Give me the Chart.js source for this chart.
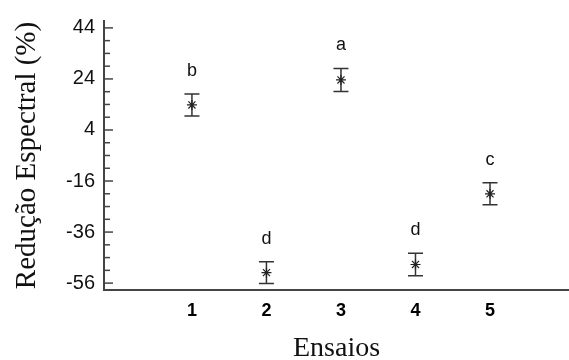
<!DOCTYPE html>
<html>
<head>
<meta charset="utf-8">
<script src="https://cdn.jsdelivr.net/npm/chart.js@4/dist/chart.umd.min.js"></script>
<style>
  html, body { margin: 0; padding: 0; background: #fff; }
  #wrap { width: 569px; height: 360px; }
</style>
</head>
<body>
<div id="wrap"><canvas id="chart" width="569" height="360"></canvas></div>
<script>
// Ensaios 1..5, mean spectral reduction with error bars and letter groups
const ensaios = [1, 2, 3, 4, 5];
const reducao = [13.8, -51.9, 23.6, -48.7, -21.0];
const erro = [4.3, 4.3, 4.5, 4.4, 4.3];
const letras = ['b', 'd', 'a', 'd', 'c'];
const yTicks = [-56, -36, -16, 4, 24, 44];

const axisColor = '#444';

// error bars + letters drawn through the chart scales
const errorBars = {
    id: 'errorBars',
    beforeDatasetsDraw(chart) {
        const { ctx, scales: { x, y } } = chart;
        ctx.save();
        ctx.strokeStyle = '#333';
        ctx.lineWidth = 1.5;
        ensaios.forEach((e, i) => {
            const px = x.getPixelForValue(e);
            const top = y.getPixelForValue(reducao[i] + erro[i]);
            const bot = y.getPixelForValue(reducao[i] - erro[i]);
            ctx.beginPath();
            ctx.moveTo(px, top); ctx.lineTo(px, bot);
            ctx.moveTo(px - 7.5, top); ctx.lineTo(px + 7.5, top);
            ctx.moveTo(px - 7.5, bot); ctx.lineTo(px + 7.5, bot);
            ctx.stroke();
        });
        ctx.restore();
    },
    afterDatasetsDraw(chart) {
        const { ctx, scales: { x, y } } = chart;
        ctx.save();
        ctx.fillStyle = '#111';
        ctx.font = '18px Arial, "Liberation Sans"';
        ctx.textAlign = 'center';
        ctx.textBaseline = 'alphabetic';
        ensaios.forEach((e, i) => {
            const px = x.getPixelForValue(e);
            const top = y.getPixelForValue(reducao[i] + erro[i]);
            ctx.fillText(letras[i], px, top - 18);
        });
        ctx.restore();
    },
    afterDraw(chart) {
        // inward tick marks on the y axis (major every 20, minor every 5)
        const { ctx, chartArea, scales: { y } } = chart;
        ctx.save();
        ctx.strokeStyle = axisColor;
        ctx.lineWidth = 1.5;
        y.ticks.forEach(t => {
            const py = y.getPixelForValue(t.value);
            const len = yTicks.includes(t.value) ? 9 : 6;
            ctx.beginPath();
            ctx.moveTo(chartArea.left, py);
            ctx.lineTo(chartArea.left + len, py);
            ctx.stroke();
        });
        ctx.restore();
    }
};

const ctx = document.getElementById('chart').getContext('2d');

new Chart(ctx, {
    type: 'scatter',
    data: {
        datasets: [{
            label: 'Redução Espectral',
            data: ensaios.map((e, i) => ({ x: e, y: reducao[i] })),
            pointStyle: 'star',
            radius: 5,
            borderColor: '#222',
            backgroundColor: '#222',
            borderWidth: 1.2,
        }],
    },
    options: {
        responsive: false,
        animation: false,
        layout: {
            autoPadding: false,
            padding: { top: 15, right: 0, left: 0, bottom: 0 },
        },
        plugins: {
            legend: { display: false },
            tooltip: { enabled: false },
        },
        scales: {
            x: {
                type: 'linear',
                min: -0.18,
                max: 6.06,
                afterFit: (scale) => { scale.height = 70; },
                afterBuildTicks: (scale) => {
                    scale.ticks = ensaios.map(v => ({ value: v }));
                },
                grid: { display: false, drawTicks: false },
                border: { display: true, color: axisColor, width: 2 },
                ticks: {
                    color: '#000',
                    padding: 10,
                    font: { family: 'Arial, "Liberation Sans"', size: 18, weight: 'bold' },
                },
                title: {
                    display: true,
                    text: 'Ensaios',
                    color: '#111',
                    padding: { top: 0, bottom: 0 },
                    font: { family: '"Times New Roman", "Liberation Serif"', size: 28, lineHeight: 0.8 },
                },
            },
            y: {
                min: -58.7,
                max: 46.7,
                afterFit: (scale) => { scale.width = 104; },
                afterBuildTicks: (scale) => {
                    const t = [];
                    for (let v = -56; v <= 44; v += 5) t.push({ value: v });
                    scale.ticks = t;
                },
                grid: { display: false, drawTicks: false },
                border: { display: true, color: axisColor, width: 2 },
                ticks: {
                    color: '#111',
                    padding: 9,
                    autoSkip: false,
                    font: { family: 'Arial, "Liberation Sans"', size: 20 },
                    callback: (v) => yTicks.includes(v) ? String(v) : '',
                },
                title: {
                    display: true,
                    text: 'Redução Espectral (%)',
                    color: '#111',
                    padding: { top: 16, bottom: 0 },
                    font: { family: '"Times New Roman", "Liberation Serif"', size: 29, lineHeight: 0.8 },
                },
            },
        },
    },
    plugins: [errorBars],
});
</script>
</body>
</html>
